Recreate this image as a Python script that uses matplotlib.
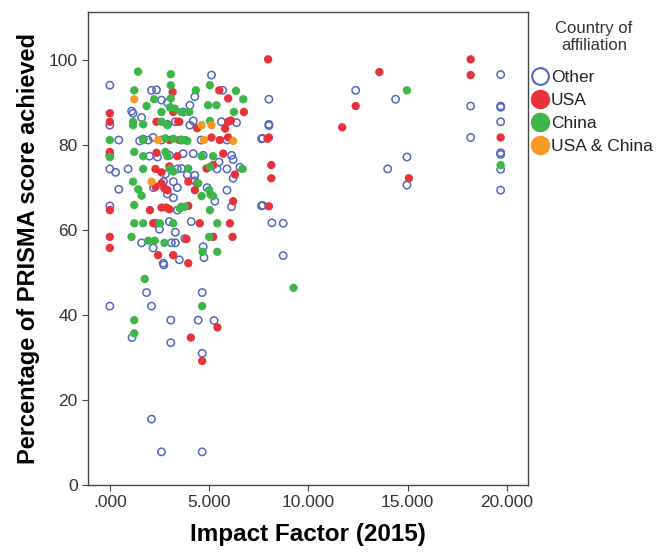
import matplotlib
matplotlib.use("Agg")
import matplotlib.pyplot as plt
from matplotlib.lines import Line2D
from matplotlib.ticker import FuncFormatter

plt.rcParams['font.family'] = ['Liberation Sans', 'DejaVu Sans']

# impact factor (x) and PRISMA score % (y) per country group
other_x = [0.0, 2.1, 2.6, 1.17, 0.0, 0.45, 1.68, 1.93, 2.18, 0.0, 2.0,
           5.12, 5.68, 4.28, 4.03, 3.69, 4.2, 4.03, 5.62, 6.38, 7.64, 8.01, 8.01,
           3.69, 4.2, 6.13, 6.21,
           0.0, 0.29, 0.92, 3.4, 0.45, 2.2, 2.7, 2.9, 3.2, 3.4, 3.2, 0.0, 3.4,
           2.5, 1.6, 3.1, 3.3, 2.18, 2.69,
           3.61, 6.21, 6.55, 4.28, 4.28, 5.29, 6.13, 7.64, 3.78, 4.7, 4.74,
           2.72, 3.5, 1.85, 4.65, 0.0, 2.1, 3.07, 4.45, 5.25, 1.12, 3.07, 4.65,
           2.1, 2.6, 4.65,
           19.68, 12.38, 14.39, 8.01, 18.17, 19.68, 19.68, 19.68, 18.17, 7.7,
           19.68, 19.68, 19.68, 14.96, 13.99, 14.96, 19.68, 7.7, 8.16, 8.73, 8.73,
           2.9, 3.3, 2.6, 3.6, 4.6, 5.9, 2.4, 3.0, 4.7, 5.4, 5.9, 2.8, 3.0, 4.1,
           3.3, 2.3, 5.9, 4.9, 1.6, 2.35, 1.1, 2.9, 1.5, 3.9, 5.5]
other_y = [94.1, 92.9, 90.6, 87.5, 84.7, 81.2, 81.4, 81.2, 81.8, 77.6, 77.4,
           96.5, 92.9, 91.4, 89.4, 87.8, 85.7, 84.7, 85.5, 85.3, 81.5, 84.9, 84.6,
           78.0, 78.0, 77.6, 76.6,
           74.4, 73.6, 74.4, 74.4, 69.6, 70.0, 71.4, 68.5, 71.4, 70.0, 67.6, 65.7, 64.7,
           60.2, 57.0, 57.0, 57.0, 55.8, 52.2,
           74.5, 72.2, 74.8, 72.9, 71.6, 66.8, 65.5, 65.7, 58.0, 56.1, 53.5,
           51.8, 53.0, 45.3, 45.3, 42.1, 42.1, 38.8, 38.8, 38.7, 34.7, 33.5, 31.0,
           15.5, 7.8, 7.8,
           96.6, 92.9, 90.8, 90.8, 89.2, 89.2, 88.9, 85.5, 81.8, 81.6,
           78.2, 77.8, 74.3, 77.2, 74.4, 70.6, 69.4, 65.8, 61.7, 61.6, 54.0,
           84.9, 85.5, 81.2, 81.2, 81.2, 81.2, 77.2, 77.6, 77.6, 74.4, 74.4, 73.2, 62.0, 62.0,
           59.5, 61.6, 69.4, 70.0, 86.5, 93.0, 88.0, 90.0, 81.0, 73.0, 76.0]

usa_x = [0.0, 0.0, 3.16, 3.19, 2.35, 3.44, 0.0, 2.35, 3.0,
         5.51, 5.96, 6.75, 3.5, 4.4, 5.96, 6.1, 5.8, 7.94, 3.5, 5.12, 5.54, 5.96, 5.71,
         2.3, 2.6, 2.6, 2.75, 2.9, 0.0, 2.02, 2.6, 2.85, 3.0, 2.18, 0.0, 0.0, 2.43, 3.19,
         4.87, 5.2, 6.3, 3.95, 4.4, 4.28, 3.95, 6.21, 4.53, 6.05, 3.86, 5.2, 6.18, 3.95,
         5.42, 4.08, 4.65,
         7.97, 18.17, 13.57, 18.17, 12.38, 11.7, 19.68, 8.01, 8.13, 8.13, 15.06, 8.01,
         3.4, 3.0, 2.3]
usa_y = [87.5, 85.5, 92.5, 87.8, 85.5, 85.5, 78.4, 78.2, 81.2,
         92.9, 91.0, 87.8, 85.5, 84.0, 85.5, 85.8, 83.9, 81.5, 81.2, 81.8, 81.2, 81.8, 78.0,
         74.4, 73.6, 71.0, 69.8, 69.4, 64.7, 64.7, 65.3, 65.3, 64.9, 61.6, 58.4, 55.8, 54.1, 54.1,
         74.5, 75.3, 73.1, 71.4, 71.0, 69.4, 65.7, 66.8, 61.6, 61.6, 57.9, 58.4, 58.4, 52.2,
         37.1, 34.7, 29.2,
         100.2, 100.2, 97.2, 96.5, 89.2, 84.2, 81.8, 81.8, 75.3, 72.2, 72.2, 65.6,
         77.4, 75.0, 70.2]

china_x = [1.42, 3.07, 3.07, 1.23, 2.23, 3.07, 1.85, 2.6, 3.02, 3.27, 3.6, 1.17, 1.17,
           1.68, 2.6, 2.9, 0.0, 1.68, 2.8, 3.2, 3.6, 0.0, 1.23, 1.68, 2.8, 2.9,
           5.04, 4.33, 6.35, 6.72, 4.95, 5.37, 4.0, 6.25, 5.04, 3.8, 3.9, 4.62, 5.2,
           1.68, 3.02, 3.19, 1.17, 1.43, 1.6, 1.23, 3.53, 1.23, 1.68, 2.52, 3.19,
           1.09, 1.94, 2.26, 2.75,
           3.95, 5.04, 6.68, 4.45, 5.0, 4.62, 5.07, 5.2, 3.6, 3.78, 5.04, 5.41, 5.0,
           4.67, 5.41,
           1.76, 4.65, 1.23, 1.23,
           14.96, 19.68, 9.25]
china_y = [97.3, 96.7, 94.1, 92.9, 90.8, 91.0, 89.2, 87.8, 88.9, 88.6, 87.8, 85.5, 84.7,
           84.9, 85.5, 84.7, 81.2, 81.2, 81.6, 81.5, 81.2, 77.2, 78.4, 77.4, 78.4, 77.4,
           94.1, 92.9, 92.8, 90.8, 89.4, 89.4, 87.8, 87.8, 85.7, 81.2, 81.0, 77.4, 77.4,
           74.4, 74.4, 73.8, 71.4, 69.6, 68.1, 65.9, 65.1, 61.6, 61.6, 61.6, 61.6,
           58.4, 57.5, 57.5, 57.0,
           74.5, 74.9, 74.4, 71.0, 69.4, 68.0, 68.4, 68.0, 65.5, 65.5, 64.7, 61.6, 58.4,
           54.9, 54.9,
           48.5, 42.1, 38.8, 35.7,
           92.9, 75.3, 46.4]

both_x = [1.23, 2.43, 4.62, 5.12, 4.74, 6.21, 2.1]
both_y = [90.8, 81.2, 84.7, 84.7, 81.2, 81.0, 71.4]

blue = '#5468bd'
red = '#e8323a'
green = '#3cb54a'
orange = '#f79a25'

fig = plt.figure(figsize=(6.59, 5.53), dpi=100)
ax = fig.add_axes([0.1335, 0.123, 0.6675, 0.855])

ax.scatter(other_x, other_y, s=28, facecolors='none', edgecolors=blue, linewidths=1.1, zorder=3)
ax.scatter(usa_x, usa_y, s=36, color=red, edgecolors='none', zorder=3)
ax.scatter(china_x, china_y, s=36, color=green, edgecolors='none', zorder=3)
ax.scatter(both_x, both_y, s=36, color=orange, edgecolors='none', zorder=3)

ax.set_xlim(-1.1, 21.05)
ax.set_ylim(0, 111.3)
ax.set_xticks([0, 5, 10, 15, 20])
ax.set_yticks([0, 20, 40, 60, 80, 100])
ax.xaxis.set_major_formatter(FuncFormatter(lambda v, p: '.000' if v == 0 else f'{v:.3f}'))
ax.tick_params(labelsize=12.5, length=4, color='#444444', labelcolor='#333333')
for s in ax.spines.values():
    s.set_color('#444444')
    s.set_linewidth(1.0)

ax.set_xlabel('Impact Factor (2015)', fontsize=17.5, fontweight='bold', labelpad=9)
ax.set_ylabel('Percentage of PRISMA score achieved', fontsize=17, fontweight='bold', labelpad=6)

handles = [
    Line2D([], [], marker='o', ls='none', markersize=12, markerfacecolor='none',
           markeredgecolor=blue, markeredgewidth=1.5, label='Other'),
    Line2D([], [], marker='o', ls='none', markersize=13, color=red, label='USA'),
    Line2D([], [], marker='o', ls='none', markersize=13, color=green, label='China'),
    Line2D([], [], marker='o', ls='none', markersize=13, color=orange, label='USA & China'),
]
fig.text(594 / 659, 1 - 37 / 553, 'Country of\naffiliation', ha='center', va='center',
         fontsize=12, color='#333333', linespacing=1.15)
leg = fig.legend(handles=handles, loc='upper left', bbox_to_anchor=(0.807, 0.873),
                 frameon=False, fontsize=12.5, handletextpad=0.1, handlelength=1.0,
                 labelspacing=0.44, borderaxespad=0, borderpad=0)
for t in leg.get_texts():
    t.set_color('#222222')

fig.savefig('out.png', dpi=100)
